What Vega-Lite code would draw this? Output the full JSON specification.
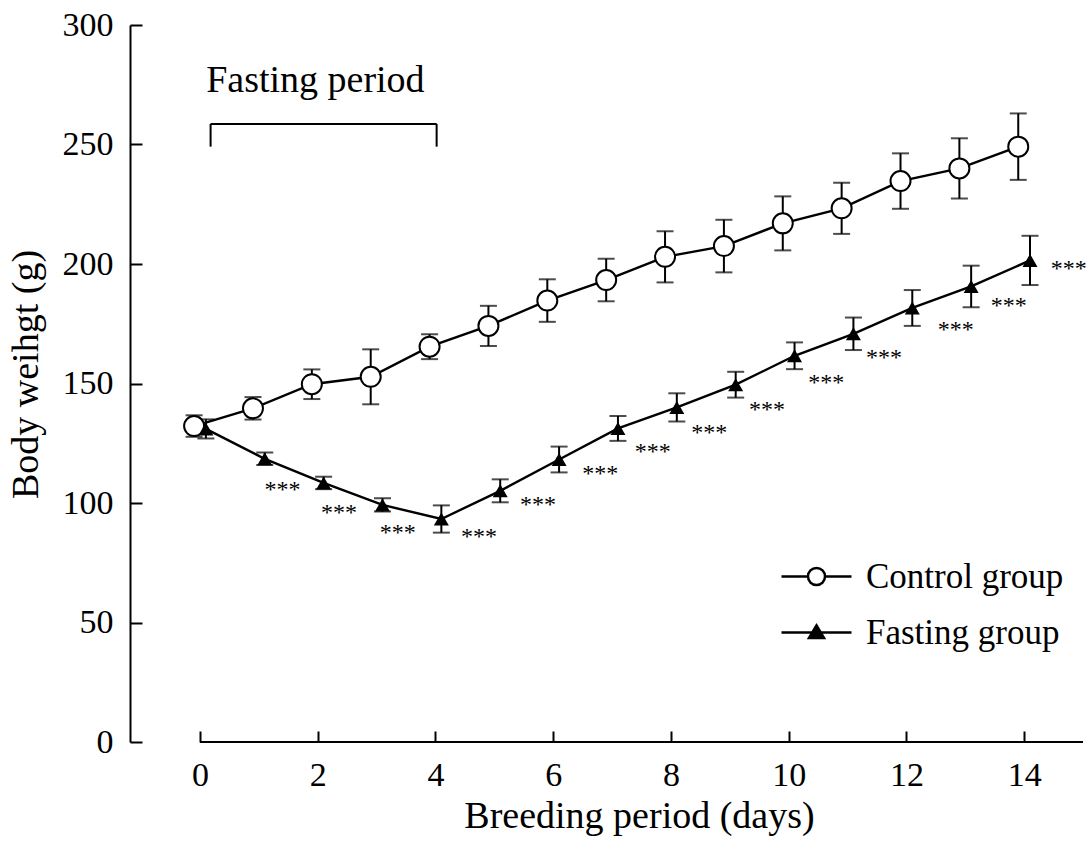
{
  "$schema": "https://vega.github.io/schema/vega-lite/v6.json",
  "width": 953,
  "height": 717,
  "autosize": {"type": "none"},
  "padding": {"left": 130, "top": 25, "right": 8, "bottom": 101},
  "background": "white",
  "config": {
    "font": "Liberation Serif",
    "view": {"stroke": null},
    "axis": {
      "grid": false,
      "domainColor": "black",
      "tickColor": "black",
      "labelColor": "black",
      "titleColor": "black",
      "labelFont": "Liberation Serif",
      "titleFont": "Liberation Serif",
      "labelFontSize": 34,
      "titleFontSize": 38,
      "titleFontWeight": "normal",
      "domainWidth": 2,
      "tickWidth": 2
    },
    "legend": {
      "labelFont": "Liberation Serif",
      "labelFontSize": 35,
      "labelColor": "black",
      "labelLimit": 0
    }
  },
  "datasets": {
    "weights": [
      {"group": "Control group", "day": 0, "x": -0.1, "mean": 132.2, "sd": 4.5},
      {"group": "Control group", "day": 1, "x": 0.9, "mean": 139.6, "sd": 4.7},
      {"group": "Control group", "day": 2, "x": 1.9, "mean": 149.7, "sd": 6.2},
      {"group": "Control group", "day": 3, "x": 2.9, "mean": 152.8, "sd": 11.5},
      {"group": "Control group", "day": 4, "x": 3.9, "mean": 165.4, "sd": 5.2},
      {"group": "Control group", "day": 5, "x": 4.9, "mean": 174.1, "sd": 8.4},
      {"group": "Control group", "day": 6, "x": 5.9, "mean": 184.7, "sd": 8.9},
      {"group": "Control group", "day": 7, "x": 6.9, "mean": 193.3, "sd": 8.9},
      {"group": "Control group", "day": 8, "x": 7.9, "mean": 203.0, "sd": 10.7},
      {"group": "Control group", "day": 9, "x": 8.9, "mean": 207.5, "sd": 11.0},
      {"group": "Control group", "day": 10, "x": 9.9, "mean": 217.0, "sd": 11.3},
      {"group": "Control group", "day": 11, "x": 10.9, "mean": 223.3, "sd": 10.7},
      {"group": "Control group", "day": 12, "x": 11.9, "mean": 234.7, "sd": 11.6},
      {"group": "Control group", "day": 13, "x": 12.9, "mean": 240.0, "sd": 12.6},
      {"group": "Control group", "day": 14, "x": 13.9, "mean": 249.1, "sd": 13.9},
      {"group": "Fasting group", "day": 0, "x": 0.1, "mean": 131.0, "sd": 4.0},
      {"group": "Fasting group", "day": 1, "x": 1.1, "mean": 118.5, "sd": 2.6},
      {"group": "Fasting group", "day": 2, "x": 2.1, "mean": 108.4, "sd": 2.6},
      {"group": "Fasting group", "day": 3, "x": 3.1, "mean": 99.2, "sd": 2.8},
      {"group": "Fasting group", "day": 4, "x": 4.1, "mean": 93.3, "sd": 5.7},
      {"group": "Fasting group", "day": 5, "x": 5.1, "mean": 105.1, "sd": 4.8},
      {"group": "Fasting group", "day": 6, "x": 6.1, "mean": 118.2, "sd": 5.4},
      {"group": "Fasting group", "day": 7, "x": 7.1, "mean": 131.2, "sd": 5.2},
      {"group": "Fasting group", "day": 8, "x": 8.1, "mean": 140.0, "sd": 5.9},
      {"group": "Fasting group", "day": 9, "x": 9.1, "mean": 149.5, "sd": 5.4},
      {"group": "Fasting group", "day": 10, "x": 10.1, "mean": 161.6, "sd": 5.6},
      {"group": "Fasting group", "day": 11, "x": 11.1, "mean": 170.8, "sd": 6.8},
      {"group": "Fasting group", "day": 12, "x": 12.1, "mean": 181.6, "sd": 7.5},
      {"group": "Fasting group", "day": 13, "x": 13.1, "mean": 190.6, "sd": 8.7},
      {"group": "Fasting group", "day": 14, "x": 14.1, "mean": 201.5, "sd": 10.3}
    ],
    "sig": [
      {"day": 1, "x": 1.40, "y": 107.5, "label": "***"},
      {"day": 2, "x": 2.36, "y": 97.8, "label": "***"},
      {"day": 3, "x": 3.36, "y": 89.5, "label": "***"},
      {"day": 4, "x": 4.74, "y": 88.0, "label": "***"},
      {"day": 5, "x": 5.74, "y": 101.3, "label": "***"},
      {"day": 6, "x": 6.80, "y": 114.2, "label": "***"},
      {"day": 7, "x": 7.69, "y": 123.6, "label": "***"},
      {"day": 8, "x": 8.65, "y": 131.5, "label": "***"},
      {"day": 9, "x": 9.63, "y": 141.0, "label": "***"},
      {"day": 10, "x": 10.64, "y": 152.4, "label": "***"},
      {"day": 11, "x": 11.62, "y": 162.6, "label": "***"},
      {"day": 12, "x": 12.84, "y": 174.5, "label": "***"},
      {"day": 13, "x": 13.74, "y": 184.5, "label": "***"},
      {"day": 14, "x": 14.76, "y": 200.0, "label": "***"}
    ],
    "one": [{"note": "annotation"}]
  },
  "data": {"name": "weights"},
  "layer": [
    {
      "data": {"name": "one"},
      "mark": {"type": "rule", "color": "black", "strokeWidth": 2},
      "encoding": {
        "x": {
          "datum": 0,
          "type": "quantitative",
          "title": "Breeding period (days)",
          "scale": {"domain": [-1.189, 15], "nice": false, "zero": false},
          "axis": {
            "title": "Breeding period (days)",
            "values": [0, 2, 4, 6, 8, 10, 12, 14],
            "format": "d",
            "domain": false,
            "tickSize": -11,
            "labelBaseline": "alphabetic",
            "labelPadding": 54,
            "labelFlush": false,
            "titleX": 509,
            "titleY": 85,
            "titleAlign": "center",
            "titleBaseline": "alphabetic",
            "titleAnchor": null
          }
        },
        "x2": {"datum": 15},
        "y": {
          "datum": 0,
          "type": "quantitative",
          "title": "Body weihgt (g)",
          "scale": {"domain": [0, 300], "nice": false, "zero": true},
          "axis": {
            "title": "Body weihgt (g)",
            "values": [0, 50, 100, 150, 200, 250, 300],
            "format": "d",
            "tickSize": -12,
            "labelPadding": 29,
            "labelFlush": false,
            "titleAngle": 270,
            "titleX": -93,
            "titleY": 349,
            "titleAlign": "center",
            "titleBaseline": "alphabetic",
            "titleAnchor": null
          }
        }
      }
    },
    {
      "data": {"name": "one"},
      "mark": {"type": "rule", "color": "black", "strokeWidth": 2},
      "encoding": {
        "x": {"datum": 0.18, "type": "quantitative", "title": "Breeding period (days)"},
        "x2": {"datum": 4.02},
        "y": {"datum": 258.6, "type": "quantitative", "title": "Body weihgt (g)"}
      }
    },
    {
      "data": {"name": "one"},
      "mark": {"type": "rule", "color": "black", "strokeWidth": 2},
      "encoding": {
        "x": {"datum": 0.18, "type": "quantitative", "title": "Breeding period (days)"},
        "y": {"datum": 249.1, "type": "quantitative", "title": "Body weihgt (g)"},
        "y2": {"datum": 258.6}
      }
    },
    {
      "data": {"name": "one"},
      "mark": {"type": "rule", "color": "black", "strokeWidth": 2},
      "encoding": {
        "x": {"datum": 4.02, "type": "quantitative", "title": "Breeding period (days)"},
        "y": {"datum": 249.1, "type": "quantitative", "title": "Body weihgt (g)"},
        "y2": {"datum": 258.6}
      }
    },
    {
      "data": {"name": "one"},
      "mark": {"type": "text", "text": "Fasting period", "fontSize": 38, "align": "center", "baseline": "alphabetic", "color": "black"},
      "encoding": {
        "x": {"datum": 1.96, "type": "quantitative", "title": "Breeding period (days)"},
        "y": {"datum": 272.1, "type": "quantitative", "title": "Body weihgt (g)"}
      }
    },
    {
      "mark": {"type": "errorbar", "color": "black", "thickness": 2, "ticks": {"size": 17, "thickness": 2, "color": "black"}},
      "encoding": {
        "x": {"field": "x", "type": "quantitative", "title": "Breeding period (days)"},
        "y": {"field": "mean", "type": "quantitative", "title": "Body weihgt (g)"},
        "yError": {"field": "sd"},
        "detail": {"field": "group"}
      }
    },
    {
      "mark": {"type": "line", "color": "black", "strokeWidth": 2.4},
      "encoding": {
        "x": {"field": "x", "type": "quantitative", "title": "Breeding period (days)"},
        "y": {"field": "mean", "type": "quantitative", "title": "Body weihgt (g)"},
        "detail": {"field": "group"},
        "order": {"field": "day"}
      }
    },
    {
      "transform": [{"filter": "datum.group === 'Control group'"}],
      "mark": {"type": "point", "shape": "circle", "size": 400, "filled": true, "fill": "white", "stroke": "black", "strokeWidth": 2, "opacity": 1},
      "encoding": {
        "x": {"field": "x", "type": "quantitative", "title": "Breeding period (days)"},
        "y": {"field": "mean", "type": "quantitative", "title": "Body weihgt (g)"}
      }
    },
    {
      "transform": [{"filter": "datum.group === 'Fasting group'"}],
      "mark": {"type": "point", "shape": "triangle-up", "size": 225, "filled": true, "fill": "black", "stroke": null, "opacity": 1},
      "encoding": {
        "x": {"field": "x", "type": "quantitative", "title": "Breeding period (days)"},
        "y": {"field": "mean", "type": "quantitative", "title": "Body weihgt (g)"}
      }
    },
    {
      "data": {"name": "sig"},
      "mark": {"type": "text", "fontSize": 24, "align": "center", "baseline": "alphabetic", "dy": 12, "color": "black"},
      "encoding": {
        "x": {"field": "x", "type": "quantitative", "title": "Breeding period (days)"},
        "y": {"field": "y", "type": "quantitative", "title": "Body weihgt (g)"},
        "text": {"field": "label"}
      }
    },
    {
      "mark": {"type": "point", "opacity": 0, "size": 1225, "filled": true, "strokeWidth": 2.5},
      "encoding": {
        "x": {"field": "x", "type": "quantitative", "title": "Breeding period (days)"},
        "y": {"field": "mean", "type": "quantitative", "title": "Body weihgt (g)"},
        "shape": {
          "field": "group",
          "type": "nominal",
          "scale": {
            "domain": ["Control group", "Fasting group"],
            "range": [
              "M-2,0H-0.486M0.486,0H2M0.486,0A0.486,0.486,0,1,1,-0.486,0A0.486,0.486,0,1,1,0.486,0Z",
              "M-2,0H2M0,-0.4L0.43,0.31L-0.43,0.31Z"
            ]
          },
          "legend": {
            "title": null,
            "orient": "none",
            "legendX": 667.5,
            "legendY": 532.5,
            "padding": 0,
            "symbolSize": 1225,
            "labelOffset": 30.5,
            "rowPadding": 19,
            "labelFontSize": 35,
            "labelLimit": 0,
            "encode": {
              "symbols": {
                "update": {
                  "stroke": {"value": "black"},
                  "strokeWidth": {"value": 2.5},
                  "opacity": {"value": 1},
                  "strokeOpacity": {"value": 1},
                  "fillOpacity": {"value": 1}
                }
              }
            }
          }
        },
        "color": {
          "field": "group",
          "type": "nominal",
          "scale": {"domain": ["Control group", "Fasting group"], "range": ["white", "black"]},
          "legend": {
            "title": null,
            "orient": "none",
            "legendX": 667.5,
            "legendY": 532.5,
            "padding": 0,
            "symbolSize": 1225,
            "labelOffset": 30.5,
            "rowPadding": 19,
            "labelFontSize": 35,
            "labelLimit": 0,
            "encode": {
              "symbols": {
                "update": {
                  "stroke": {"value": "black"},
                  "strokeWidth": {"value": 2.5},
                  "opacity": {"value": 1},
                  "strokeOpacity": {"value": 1},
                  "fillOpacity": {"value": 1}
                }
              }
            }
          }
        }
      }
    }
  ]
}
